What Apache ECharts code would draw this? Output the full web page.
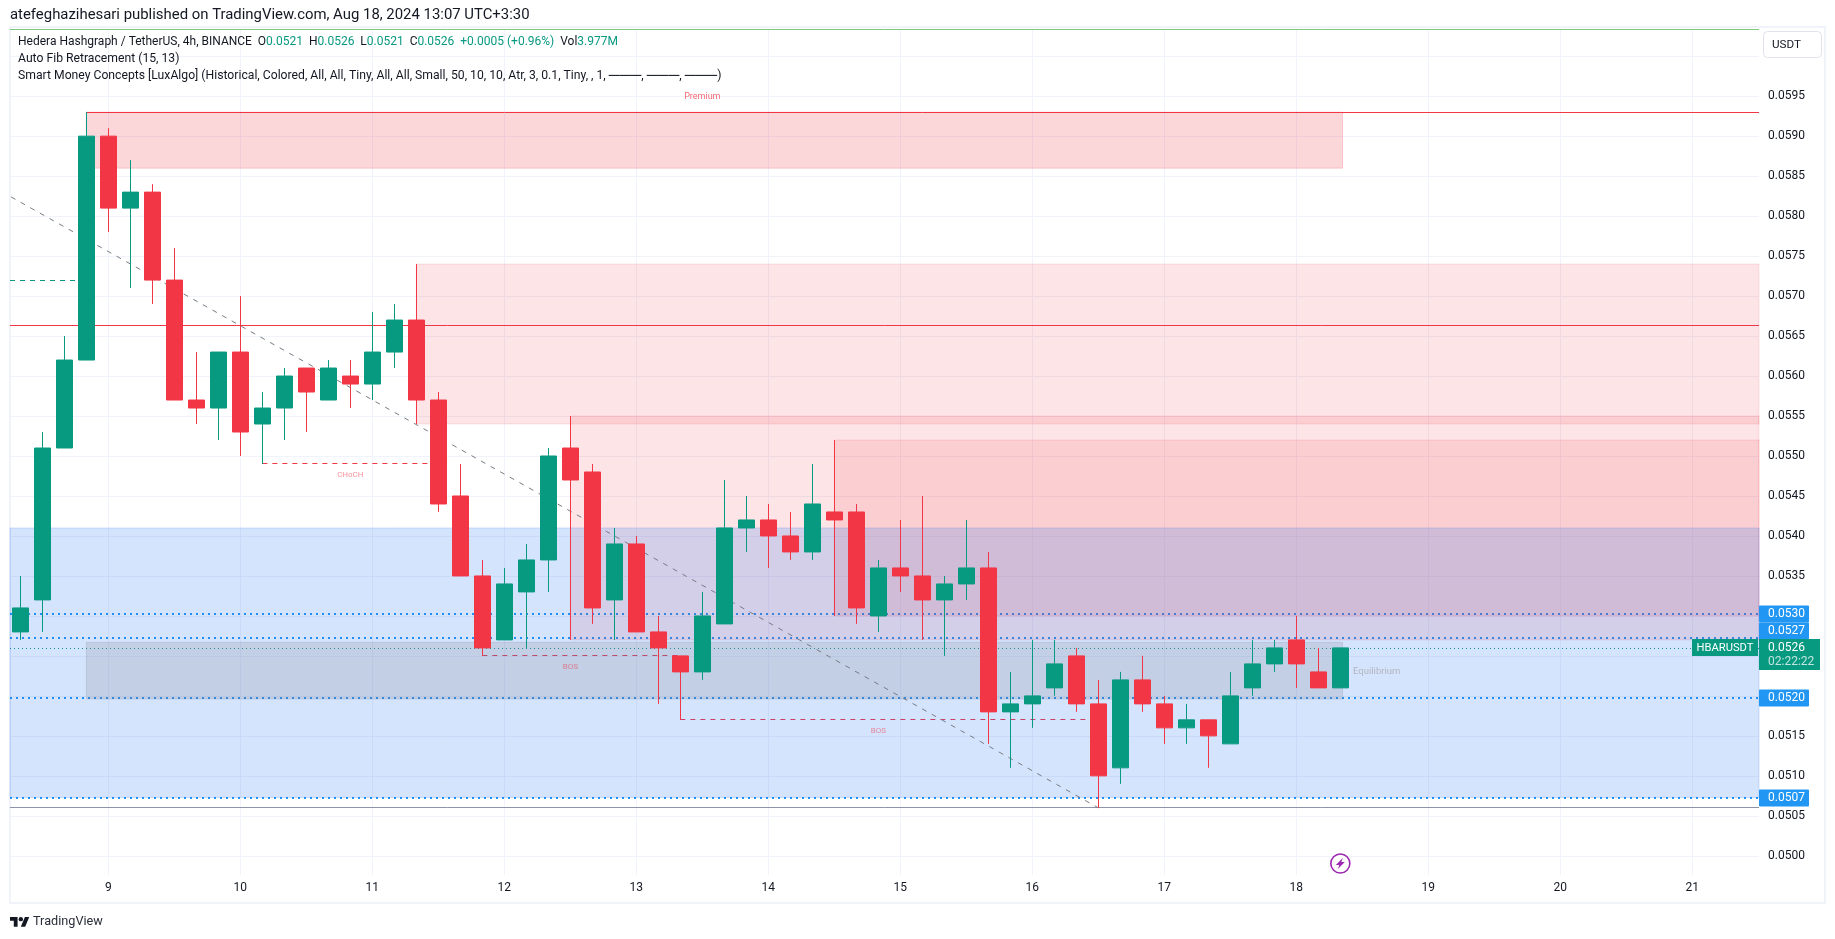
<!DOCTYPE html>
<html><head><meta charset="utf-8">
<style>html,body{margin:0;padding:0;background:#fff}#c{width:1835px;height:939px}</style>
<script src="https://cdn.jsdelivr.net/npm/echarts@6/dist/echarts.min.js"></script>
</head><body><div id="c"></div>
<script>
// ---- data ----
const firstIndex = -4;
const opens  = [.0528,.0532,.0551,.0562,.0590,.0581,.0583,.0572,.0557,.0556,.0563,.0554,.0556,.0561,.0557,.0560,.0559,.0563,.0567,.0557,.0545,.0535,.0527,.0533,.0537,.0551,.0548,.0532,.0539,.0528,.0525,.0523,.0529,.0541,.0542,.0540,.0538,.0543,.0543,.0530,.0536,.0535,.0532,.0534,.0536,.0518,.0519,.0521,.0525,.0519,.0511,.0522,.0519,.0516,.0517,.0514,.0521,.0524,.0527,.0523,.0521];
const closes = [.0531,.0551,.0562,.0590,.0581,.0583,.0572,.0557,.0556,.0563,.0553,.0556,.0560,.0558,.0561,.0559,.0563,.0567,.0557,.0544,.0535,.0526,.0534,.0537,.0550,.0547,.0531,.0539,.0528,.0526,.0523,.0530,.0541,.0542,.0540,.0538,.0544,.0542,.0531,.0536,.0535,.0532,.0534,.0536,.0518,.0519,.0520,.0524,.0519,.0510,.0522,.0519,.0516,.0517,.0515,.0520,.0524,.0526,.0524,.0521,.0526];
const lows   = [.0527,.0528,.0551,.0562,.0578,.0571,.0569,.0557,.0554,.0552,.0550,.0549,.0552,.0553,.0557,.0556,.0557,.0561,.0554,.0543,.0535,.0525,.0527,.0526,.0533,.0527,.0529,.0527,.0528,.0519,.0517,.0522,.0529,.0538,.0536,.0537,.0537,.0530,.0529,.0528,.0533,.0527,.0525,.0532,.0514,.0511,.0516,.0520,.0518,.0506,.0509,.0518,.0514,.0514,.0511,.0514,.0520,.0523,.0521,.0521,.0521];
const highs  = [.0535,.0553,.0565,.0593,.0591,.0587,.0584,.0576,.0563,.0563,.0570,.0558,.0561,.0561,.0562,.0562,.0568,.0569,.0574,.0558,.0549,.0537,.0536,.0539,.0551,.0555,.0549,.0541,.0540,.0530,.0525,.0533,.0547,.0545,.0544,.0543,.0549,.0552,.0544,.0537,.0542,.0545,.0535,.0542,.0538,.0523,.0527,.0527,.0526,.0522,.0523,.0525,.0520,.0519,.0517,.0523,.0527,.0527,.0530,.0526,.0526];
const dayLabels = ['9','10','11','12','13','14','15','16','17','18','19','20','21'];
const dayPositions = [0,6,12,18,24,30,36,42,48,54,60,66,72];
const gridPrices = [.0500,.0505,.0510,.0515,.0520,.0525,.0530,.0535,.0540,.0545,.0550,.0555,.0560,.0565,.0570,.0575,.0580,.0585,.0590,.0595,.0600];
const labelPrices = [.0500,.0505,.0510,.0515,.0535,.0540,.0545,.0550,.0555,.0560,.0565,.0570,.0575,.0580,.0585,.0590,.0595];
const dottedLevels = [.05303,.05273,.05198,.05073];
const lastPrice = .0526;
const redLevels = [.0593,.05663];
const lowLevel = .05061;
const premiumStart = -1, premiumEnd = 56.1;
const premiumZone = [.0593,.0586];
const equilibriumZone = [.05267,.05196];
const supplyZones = [[14,.0574,.0554],[21,.0555,.0527],[33,.0552,.0530]];
const discountZone = [.0541,.05073];
const structureLines = [
  {from:7, to:15, price:.05491, text:'CHoCH', at:11},
  {from:17, to:26, price:.05251, text:'BOS', at:21},
  {from:26, to:45, price:.05171, text:'BOS', at:35}
];
const priorLevel = {to:-1, price:.0572};
const fibTrend = [[-4.42,.05824],[45,.0506]];
const xMin = -4.47, xMax = 75.03;
const yMin = .04976, yMax = .06034;
const headerTitle = 'atefeghazihesari published on TradingView.com, Aug 18, 2024 13:07 UTC+3:30';
const legendName = 'Hedera Hashgraph / TetherUS, 4h, BINANCE';
const legendValues = [['O','0.0521'],['H','0.0526'],['L','0.0521'],['C','0.0526']];
const legendChange = '+0.0005 (+0.96%)';
const legendVolume = '3.977M';
const legendFib = 'Auto Fib Retracement (15, 13)';
const legendSmc = 'Smart Money Concepts [LuxAlgo] (Historical, Colored, All, All, Tiny, All, All, Small, 50, 10, 10, Atr, 3, 0.1, Tiny, , 1, ';
const legendDash = '\u2500\u2500\u2500';
const priceTags = [
  {price:.05303, text:'0.0530', dy:0},
  {price:.05273, text:'0.0527', dy:-7},
  {price:.05198, text:'0.0520', dy:1},
  {price:.05073, text:'0.0507', dy:1}
];
const countdown = '02:22:22';
const symbolTag = 'HBARUSDT';

// ---- chart ----
const FONT = 'Roboto';
const TXT = '#131722', UP = '#089981', DOWN = '#F23645', BLUE = '#2196f3';
const candleData = opens.map((o,i)=>[firstIndex+i,o,closes[i],lows[i],highs[i]]);
const chart = echarts.init(document.getElementById('c'), null, {renderer:'canvas'});
const hseg = (x0,x1,p,style)=>[{xAxis:x0,yAxis:p,lineStyle:style},{xAxis:x1,yAxis:p}];
const boxItem = (x0,x1,top,bot,color)=>[{xAxis:x0,yAxis:top,itemStyle:{color,borderColor:color,borderWidth:1}},{xAxis:x1,yAxis:bot}];
const option = {
  animation:false,
  backgroundColor:'#fff',
  grid:{left:10,top:29,width:1749,height:846,containLabel:false},
  xAxis:{type:'value',min:xMin,max:xMax,
    axisLine:{show:false},
    axisTick:{show:false,customValues:dayPositions},
    splitLine:{show:true,lineStyle:{color:'#f0f3fa',width:1}},
    axisLabel:{customValues:dayPositions,margin:7,color:TXT,fontFamily:FONT,fontSize:12,hideOverlap:false,
      formatter:v=>dayLabels[dayPositions.indexOf(v)]}},
  yAxis:{type:'value',position:'right',min:yMin,max:yMax,
    axisLine:{show:false},
    axisTick:{show:false,customValues:gridPrices},
    splitLine:{show:true,lineStyle:{color:'#f0f3fa',width:1}},
    axisLabel:{customValues:labelPrices,margin:9,color:TXT,fontFamily:FONT,fontSize:12,
      formatter:v=>v.toFixed(4)}},
  series:[
    {name:'lines',type:'line',data:[],silent:true,z:1,
     markLine:{silent:true,symbol:'none',animation:false,z:1,label:{show:false},
      data:[
        ...redLevels.map(p=>hseg(p===redLevels[0]?premiumStart:xMin,xMax,p,{color:DOWN,type:'solid',width:1})),
        hseg(xMin,xMax,lowLevel,{color:'#8f93a8',type:'solid',width:1}),
        hseg(xMin,priorLevel.to,priorLevel.price,{color:UP,type:[5,5],width:1}),
        ...dottedLevels.map(p=>hseg(xMin,xMax,p,{color:BLUE,type:[2,4],width:2})),
        hseg(xMin,xMax,lastPrice,{color:UP,type:[1,3],width:1}),
        ...structureLines.map(s=>hseg(s.from,s.to,s.price,{color:DOWN,type:[5,5],width:1}))
      ]}},
    {name:'zones',type:'line',data:[],silent:true,z:2,
     markArea:{silent:true,z:2,animation:false,
      data:[
        ...supplyZones.map(z=>boxItem(z[0],xMax,z[1],z[2],'rgba(242,54,69,0.13)')),
        boxItem(premiumStart,premiumEnd,premiumZone[0],premiumZone[1],'rgba(242,54,69,0.2)'),
        boxItem(xMin,xMax,discountZone[0],discountZone[1],'rgba(33,110,243,0.19)'),
        boxItem(premiumStart,premiumEnd,equilibriumZone[0],equilibriumZone[1],'rgba(120,123,134,0.2)')
      ]}},
    {name:'trend',type:'line',data:fibTrend,silent:true,z:3,showSymbol:false,symbol:'none',
     lineStyle:{color:'#787b86',width:1,type:[5,6]}},
    {name:'HBARUSDT',type:'candlestick',z:10,barWidth:16,data:candleData,
     itemStyle:{color:UP,color0:DOWN,borderColor:UP,borderColor0:DOWN,borderWidth:1}}
  ]
};
chart.setOption(option);

const px = v=>chart.convertToPixel({xAxisIndex:0},v);
const py = v=>chart.convertToPixel({yAxisIndex:0},v);
const t = (x,y,text,o={},z=50)=>({type:'text',silent:true,z,x,y,style:Object.assign({text,fontFamily:FONT,fontSize:12,fill:TXT,verticalAlign:'middle',align:'left'},o)});
const r = (x,y,w,h,fill,o={})=>({type:'rect',silent:true,z:o.z||49,shape:{x,y,width:w,height:h,r:o.r||0},style:{fill,stroke:o.stroke||null,lineWidth:o.lw||0}});
const rich = {k:{fill:TXT,fontFamily:FONT,fontSize:12},v:{fill:UP,fontFamily:FONT,fontSize:12}};
const legendLine = '{k|'+legendName+'}  '+legendValues.map(a=>'{k|'+a[0]+'}{v|'+a[1]+'}').join('  ')+'  {v|'+legendChange+'}  {k|Vol}{v|'+legendVolume+'}';
const smcRich = {s:{fill:TXT,fontFamily:FONT,fontSize:12.2},d:{fill:TXT,fontFamily:FONT,fontSize:15.3}};
const smcLine = '{s|'+legendSmc+'}'+[0,1,2].map(()=>'{d|'+legendDash+'}').join('{s|, }')+'{s|)}';
const g = [];
// frame
g.push({type:'rect',silent:true,z:0,shape:{x:10,y:27,width:1815,height:876},style:{fill:null,stroke:'#f0f3fa',lineWidth:2}});
// top green edge
g.push({type:'line',silent:true,z:5,shape:{x1:10,y1:29.5,x2:1759,y2:29.5},style:{stroke:'#81c784',lineWidth:1}});
g.push(t(10,15,headerTitle,{fontSize:14.9}));
g.push(t(18,42,legendLine,{rich}));
g.push(t(18,59,legendFib,{fontSize:12.2}));
g.push(t(18,76,smcLine,{rich:smcRich}));
// USDT
g.push(r(1763.5,31.5,58,26,'#fff',{stroke:'#e0e3eb',lw:1,r:4}));
g.push(t(1772,45,'USDT',{fontSize:11.7}));
// zone texts
g.push(t(px(27),97,'Premium',{fontSize:9,fill:'rgba(242,54,69,0.75)',align:'center'}));
g.push(t(1353,672,'Equilibrium',{fontSize:9.5,fill:'#b2b5be'}));
structureLines.forEach(s=>g.push(t(px(s.at),py(s.price)+12,s.text,{fontSize:8,fill:'rgba(242,54,69,0.55)',align:'center'})));
// price tags
priceTags.forEach(a=>{const y=py(a.price)+a.dy;
  g.push(r(1759,Math.round(y)-8.5,50,17,BLUE,{r:1}));
  g.push(t(1768,y,a.text,{fill:'#fff'}));});
const ly=py(lastPrice);
g.push(r(1759,Math.round(ly)-9,61,31,UP,{z:51}));
g.push(t(1768,ly,lastPrice.toFixed(4),{fill:'#fff'},52));
g.push(t(1768,ly+14,countdown,{fill:'rgba(255,255,255,0.75)'},52));
g.push(r(1692,Math.round(ly)-9,66,17,UP,{z:51}));
g.push(t(1725,ly,symbolTag,{fill:'#fff',align:'center',fontSize:11.2},52));
// lightning icon
const ix=px(56), iy=863.5;
g.push({type:'circle',silent:true,z:50,shape:{cx:ix,cy:iy,r:9.5},style:{fill:'#fff',stroke:'#9c27b0',lineWidth:1.6}});
const boltPts=[[7,0],[0,7],[3.5,7],[2,11],[9,4],[5.5,4]].map(p=>[ix-4.5+p[0],iy-5.5+p[1]]);
g.push({type:'polygon',silent:true,z:51,shape:{points:boltPts},style:{fill:'#9c27b0'}});
// TradingView logo
const lg=19.5/36, lx=v=>10+v*lg, lyy=v=>917+(v-4)*lg;
const logoA=[[14,22],[7,22],[7,11],[0,11],[0,4],[14,4]].map(p=>[lx(p[0]),lyy(p[1])]);
const logoB=[[28,22],[20,22],[27.5,4],[35.5,4]].map(p=>[lx(p[0]),lyy(p[1])]);
g.push({type:'polygon',silent:true,z:50,shape:{points:logoA},style:{fill:'#131722'}});
g.push({type:'polygon',silent:true,z:50,shape:{points:logoB},style:{fill:'#131722'}});
g.push({type:'circle',silent:true,z:50,shape:{cx:lx(20),cy:lyy(8),r:4*lg},style:{fill:'#131722'}});
g.push(t(33,922,'TradingView',{fontSize:12.7,fill:'#2a2e39'}));
chart.setOption({graphic:{elements:g}});
</script></body></html>
